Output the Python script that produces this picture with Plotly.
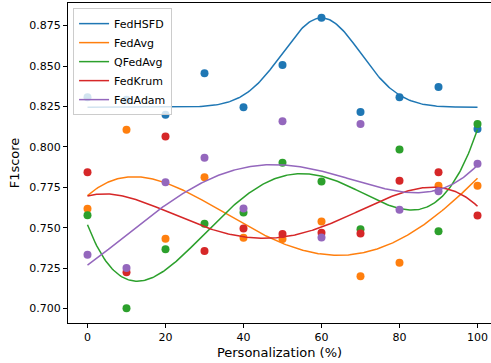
import numpy as np
import plotly.graph_objects as go

personalization = [0, 10, 20, 30, 40, 50, 60, 70, 80, 90, 100]
series_names = ["FedHSFD", "FedAvg", "QFedAvg", "FedKrum", "FedAdam"]
fedhsfd = [0.8307, 0.8292, 0.8198, 0.8455, 0.8245, 0.8507, 0.8798, 0.8216, 0.8307, 0.8371, 0.8111]
fedavg = [0.7617, 0.8105, 0.7432, 0.7812, 0.7438, 0.7429, 0.7538, 0.7200, 0.7283, 0.7759, 0.7759]
qfedavg = [0.7577, 0.7002, 0.7367, 0.7524, 0.7594, 0.7901, 0.7785, 0.7490, 0.7983, 0.7478, 0.8142]
fedkrum = [0.7843, 0.7224, 0.8064, 0.7356, 0.7495, 0.7460, 0.7468, 0.7464, 0.7790, 0.7843, 0.7575]
fedadam = [0.7332, 0.7251, 0.7781, 0.7932, 0.7618, 0.8158, 0.7439, 0.8142, 0.7610, 0.7725, 0.7895]
y_ticks = [0.700, 0.725, 0.750, 0.775, 0.800, 0.825, 0.850, 0.875]
x_ticks = [0, 20, 40, 60, 80, 100]

colors = ["#1f77b4", "#ff7f0e", "#2ca02c", "#d62728", "#9467bd"]
data = [fedhsfd, fedavg, qfedavg, fedkrum, fedadam]

x = np.array(personalization, dtype=float)
xs = np.linspace(0, 100, 300)


def gauss_fit(xv, yv, smin=10.0):
    # Gaussian peak constrained through the highest observation; baseline + width fitted
    i = int(np.argmax(yv))
    c, ymax = xv[i], yv[i]
    best = None
    for s in np.linspace(smin, 40, 301):
        g = np.exp(-(xv - c) ** 2 / (2 * s * s))
        r = yv - ymax * g
        w = 1 - g
        b = np.sum(r * w) / np.sum(w * w)
        err = np.sum((b * w - r) ** 2)
        if best is None or err < best[0]:
            best = (err, s, b)
    _, s, b = best
    return lambda t: b + (ymax - b) * np.exp(-(t - c) ** 2 / (2 * s * s))


fig = go.Figure()
for name, vals, col in zip(series_names, data, colors):
    yv = np.array(vals)
    if name == "FedHSFD":
        f = gauss_fit(x, yv)
        ys = f(xs)
    else:
        p = np.polyfit(x, yv, 4)
        ys = np.polyval(p, xs)
    fig.add_trace(go.Scatter(x=personalization, y=vals, mode="markers",
                             marker=dict(color=col, size=8), showlegend=False))
    fig.add_trace(go.Scatter(x=xs, y=ys, mode="lines", name=name,
                             line=dict(color=col, width=1.5)))

fig.update_layout(
    width=491, height=363,
    margin=dict(l=68, r=0, t=3, b=40),
    plot_bgcolor="white", paper_bgcolor="white",
    font=dict(family="DejaVu Sans", size=11, color="black"),
    legend=dict(x=0.012, y=0.984, xanchor="left", yanchor="top",
                bgcolor="rgba(255,255,255,0.8)", bordercolor="#cccccc", borderwidth=1,
                font=dict(size=11), tracegroupgap=0),
)
fig.update_xaxes(range=[-5, 103.46], tickvals=x_ticks, showgrid=False, zeroline=False,
                 showline=True, linecolor="black", linewidth=1, mirror=True,
                 ticks="outside", ticklen=4, tickcolor="black",
                 title=dict(text="Personalization (%)", standoff=4))
fig.update_yaxes(range=[0.691, 0.889], tickvals=y_ticks, tickformat=".3f",
                 showgrid=False, zeroline=False,
                 showline=True, linecolor="black", linewidth=1, mirror=False,
                 ticks="outside", ticklen=4, tickcolor="black",
                 title=dict(text="F1score", standoff=6))

fig.write_html("out.html")
